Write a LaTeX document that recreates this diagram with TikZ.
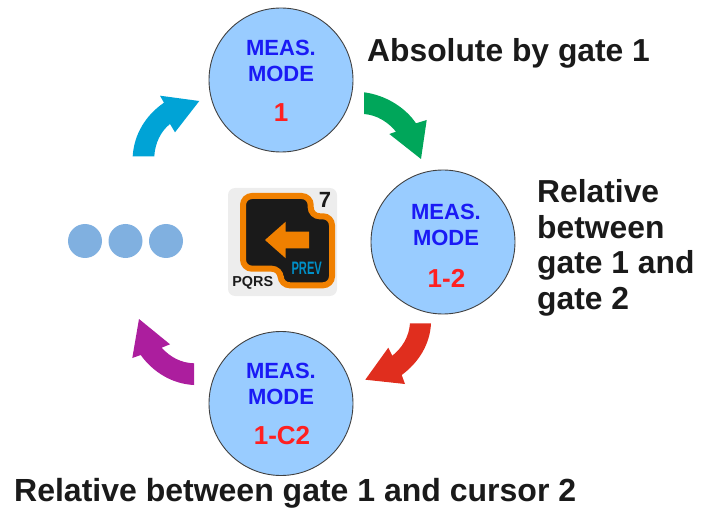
\documentclass[tikz,border=0pt]{standalone}
\usepackage{graphicx}
\usepackage{fontspec}
\setmainfont{Liberation Sans}
\definecolor{modefill}{HTML}{99CCFF}
\definecolor{modeblue}{HTML}{1A1AF5}
\definecolor{modered}{HTML}{FF2020}
\definecolor{dotblue}{HTML}{80B0E0}
\definecolor{keyorange}{HTML}{F08000}
\definecolor{keygray}{HTML}{EDEDED}
\definecolor{keyblack}{HTML}{1A1A1A}
\definecolor{prevblue}{HTML}{0090C8}
\definecolor{arrowgreen}{HTML}{00A65A}
\definecolor{arrowred}{HTML}{E02E1E}
\definecolor{arrowpurple}{HTML}{AC1E9E}
\definecolor{arrowblue}{HTML}{00A3D6}
\tikzset{
  modecircle/.style={circle, draw=black!75, line width=0.9pt, fill=modefill, minimum size=144pt, inner sep=0pt},
  modetext/.style={font=\fontsize{22}{24}\selectfont\bfseries, text=modeblue},
  modenum/.style={font=\fontsize{26}{28}\selectfont\bfseries, text=modered},
  caption/.style={font=\fontsize{31.8}{36}\selectfont\bfseries, text=keyblack, anchor=base west, inner sep=0pt},
  modedot/.style={circle, fill=dotblue, minimum size=34pt, inner sep=0pt}
}
\begin{document}
\begin{tikzpicture}[x=1pt, y=-1pt]
    \useasboundingbox (0, 0) rectangle (713, 508);

    % Draw the three mode circles
    \node[modecircle] (top) at (281, 80) {};
    \node[modetext] (topa) at (281, 48) {MEAS.};
    \node[modetext] (topb) at (281, 74) {MODE};
    \node[modenum] (topc) at (281, 113) {1};

    \node[modecircle] (right) at (443, 242) {};
    \node[modetext] (righta) at (446, 212) {MEAS.};
    \node[modetext] (rightb) at (446, 238) {MODE};
    \node[modenum] (rightc) at (446.5, 278) {1-2};

    \node[modecircle] (bottom) at (281, 403.5) {};
    \node[modetext] (bottoma) at (281, 371) {MEAS.};
    \node[modetext] (bottomb) at (281, 397) {MODE};
    \node[modenum] (bottomc) at (282, 436) {1-C2};

    % Draw the curved arrows between the circles
    \fill[arrowgreen] (364, 92.3) .. controls (385, 95) and (405, 107) .. (416, 123.3)
        -- (426.7, 120) -- (421, 159) -- (389.3, 134) -- (396, 131.7)
        .. controls (388, 122) and (377, 115) .. (364, 114) -- cycle;
    \fill[arrowred] (431, 323.3) .. controls (430, 345) and (418, 363) .. (401.7, 375)
        -- (405, 384) -- (365.3, 379.7) -- (388.3, 347.7) -- (392.3, 355.7)
        .. controls (402, 348) and (409, 337) .. (410, 323.3) -- cycle;
    \fill[arrowpurple] (194, 385) .. controls (172, 384) and (153, 372) .. (140.7, 355)
        -- (132.3, 358) -- (139, 319) -- (170, 344.3) -- (161.7, 347.7)
        .. controls (170, 357) and (181, 363) .. (194, 363.3) -- cycle;
    \fill[arrowblue] (132.7, 156.3) .. controls (134, 134) and (146, 115) .. (164, 102.7)
        -- (160, 95.7) -- (199.3, 101) -- (175, 132.3) -- (170, 124)
        .. controls (161, 131) and (155, 143) .. (154.3, 156.3) -- cycle;

    % Draw the three dots
    \node[modedot] (dota) at (85, 241) {};
    \node[modedot] (dotb) at (125.5, 241) {};
    \node[modedot] (dotc) at (166, 241) {};

    % Draw the key in the middle
    \fill[keygray, rounded corners=7pt] (228, 188) rectangle (337, 296);
    \draw[keyorange, fill=keyblack, line width=6pt, rounded corners=9pt]
        (243, 196) -- (310.7, 196) -- (310.7, 216.3) -- (332, 216.3) -- (332, 285.3)
        -- (280.7, 285.3) -- (280.7, 268.7) -- (243, 268.7) -- cycle;
    \fill[keyorange] (265, 240) -- (285.7, 221.7) -- (285.7, 231.7) -- (309, 231.7)
        -- (309, 248.3) -- (285.7, 248.3) -- (285.7, 258.3) -- cycle;
    \node[font=\fontsize{22}{24}\selectfont\bfseries, text=keyblack] (keynum) at (325, 200) {7};
    \node[font=\fontsize{14.4}{16}\selectfont\bfseries, text=keyblack] (keyname) at (252.7, 283) {PQRS};
    \node[font=\fontsize{18}{20}\selectfont\bfseries, text=prevblue] (keyprev) at (306.7, 268.5) {\scalebox{0.62}[1]{PREV}};

    % Draw the captions
    \node[caption] (capa) at (367, 62) {Absolute by gate 1};
    \node[caption] (capb) at (537, 203) {Relative};
    \node[caption] (capc) at (537, 239) {between};
    \node[caption] (capd) at (537, 273) {gate 1 and};
    \node[caption] (cape) at (537, 309) {gate 2};
    \node[caption, font=\fontsize{32}{36}\selectfont\bfseries] (capf) at (14, 501) {Relative between gate 1 and cursor 2};
\end{tikzpicture}
\end{document}
